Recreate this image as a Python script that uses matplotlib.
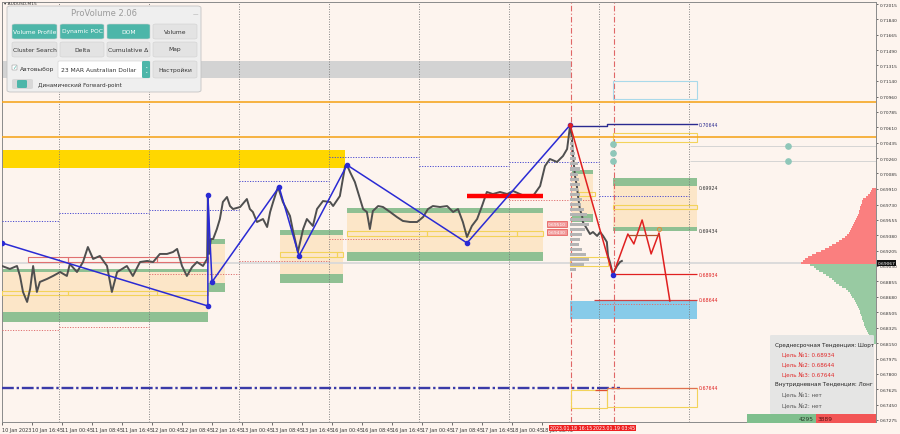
import numpy as np
import matplotlib
matplotlib.use("Agg")
import matplotlib.pyplot as plt
import matplotlib.transforms as mtransforms
from matplotlib.patches import Rectangle, FancyBboxPatch

# ---------------- data ----------------
# time axis: trading hours since 10 Jan 08:45 (M15 chart, weekends removed)
tick_t = [0, 8, 16, 24, 32, 40, 48, 56, 64, 72, 80, 88, 96, 104, 112, 120, 128, 136, 144]
tick_labels = ["10 Jan 2023", "10 Jan 16:45", "11 Jan 00:45", "11 Jan 08:45", "11 Jan 16:45",
               "12 Jan 00:45", "12 Jan 08:45", "12 Jan 16:45", "13 Jan 00:45", "13 Jan 08:45",
               "13 Jan 16:45", "16 Jan 00:45", "16 Jan 08:45", "16 Jan 16:45", "17 Jan 00:45",
               "17 Jan 08:45", "17 Jan 16:45", "18 Jan 00:45", "18 Jan 08:45"]
price_ticks = [0.72015, 0.71840, 0.71665, 0.71490, 0.71315, 0.71140, 0.70960, 0.70785, 0.70610,
               0.70435, 0.70260, 0.70085, 0.69910, 0.69730, 0.69555, 0.69380, 0.69205, 0.69030,
               0.68855, 0.68680, 0.68505, 0.68325, 0.68150, 0.67975, 0.67800, 0.67625, 0.67450,
               0.67275]
current_price = 0.69067

price_t = [0.0, 2.1, 4.0, 4.8, 5.6, 6.7, 7.5, 8.3, 9.3, 10.1, 12.0, 13.6, 15.5, 17.3, 18.1, 20.0,
           21.6, 22.9, 24.3, 26.1, 28.0, 29.3, 30.7, 33.3, 34.9, 36.8, 38.7, 40.3, 42.1, 44.0, 45.6,
           46.7, 48.0, 49.3, 50.7, 52.0, 53.6, 54.7, 54.9, 55.2, 55.7, 56.3, 57.3, 58.1, 58.9, 60.0,
           60.8, 61.6, 63.5, 65.3, 66.1, 66.9, 68.0, 69.6, 70.7, 71.5, 72.3, 73.6, 74.9, 76.8, 77.6,
           78.9, 80.3, 81.3, 82.9, 84.0, 85.6, 87.5, 88.3, 90.1, 91.5, 92.0, 92.8, 94.1, 95.5, 96.3,
           97.3, 98.1, 98.9, 100.3, 101.6, 103.5, 105.3, 106.9, 108.8, 110.7, 112.3, 113.6, 114.9,
           116.8, 118.7, 120.3, 121.6, 122.9, 124.0, 125.3, 126.7, 128.0, 129.3, 130.9, 132.8, 134.7,
           136.3, 138.1, 140.0, 141.6, 143.5, 144.8, 146.1, 148.0, 149.6, 150.7, 151.5, 152.0, 152.3,
           152.8, 153.3, 153.6, 154.1, 154.7, 154.9, 156.0, 156.8, 157.6, 158.7, 159.5, 160.3, 161.3,
           161.6, 162.1, 162.9, 164.0, 164.8, 165.3]
price_p = [0.69030, 0.68996, 0.69030, 0.68916, 0.68734, 0.68620, 0.68768, 0.69030, 0.68734, 0.68848,
           0.68882, 0.68916, 0.68961, 0.68916, 0.69053, 0.68961, 0.69075, 0.69246, 0.69110, 0.69144,
           0.69030, 0.68734, 0.68961, 0.69030, 0.68916, 0.69075, 0.69087, 0.69075, 0.69167, 0.69167,
           0.69189, 0.69224, 0.69030, 0.68916, 0.69018, 0.69075, 0.69030, 0.69110, 0.69816, 0.69167,
           0.69337, 0.69337, 0.69451, 0.69565, 0.69759, 0.69816, 0.69713, 0.69679, 0.69702, 0.69793,
           0.69679, 0.69645, 0.69531, 0.69565, 0.69474, 0.69645, 0.69759, 0.69930, 0.69759, 0.69600,
           0.69429, 0.69189, 0.69451, 0.69565, 0.69486, 0.69679, 0.69770, 0.69759, 0.69713, 0.69827,
           0.70169, 0.70181, 0.70101, 0.69987, 0.69793, 0.69679, 0.69645, 0.69451, 0.69656, 0.69713,
           0.69702, 0.69645, 0.69588, 0.69543, 0.69531, 0.69531, 0.69588, 0.69679, 0.69713, 0.69702,
           0.69713, 0.69645, 0.69679, 0.69531, 0.69360, 0.69486, 0.69565, 0.69713, 0.69873, 0.69850,
           0.69873, 0.69850, 0.69884, 0.69850, 0.69816, 0.69827, 0.69941, 0.70169, 0.70249, 0.70215,
           0.70283, 0.70363, 0.70636, 0.70477, 0.70283, 0.70055, 0.69941, 0.69827, 0.69679, 0.69600,
           0.69531, 0.69451, 0.69394, 0.69417, 0.69372, 0.69417, 0.69372, 0.69303, 0.69144, 0.69075,
           0.68939, 0.69030, 0.69075, 0.69087]

zigzag_t = [0.0, 54.9, 54.9, 56.0, 73.9, 79.2, 92.0, 124.0, 151.5]
zigzag_p = [0.69292, 0.68574, 0.69839, 0.68848, 0.69930, 0.69144, 0.70181, 0.69292, 0.70636]

forecast_t = [151.5, 162.9, 166.9, 168.5, 170.7, 173.1, 175.2, 178.1]
forecast_p = [0.70636, 0.68927, 0.69394, 0.69281, 0.69554, 0.69167, 0.69406, 0.68631]

# day separators and previous-day levels
day_t = [15.25, 39.25, 63.25, 87.25, 111.25, 135.25, 159.25, 183.25]
day_high = [0.69543, 0.69634, 0.69668, 0.70002, 0.70272, 0.70169, 0.70215, 0.69827]
day_low = [0.68301, 0.68335, 0.68939, 0.69087, 0.69337, None, 0.69782, 0.68597]
session_t = [151.7, 163.2]
session_labels = ["2023.01.18 16:15", "2023.01.19 03:45"]

# zones: (t_start, t_end, price_low, price_high)
peach_zones = [(0, 54.9, 0.68506, 0.68961), (54.9, 59.5, 0.68836, 0.69280),
               (74.1, 90.9, 0.68939, 0.69383), (92.0, 144.3, 0.69189, 0.69634),
               (152.0, 157.6, 0.69622, 0.70078), (162.9, 185.3, 0.69474, 0.69941)]
green_zones = [(0, 54.9, 0.68961, 0.68996), (0, 54.9, 0.68392, 0.68506),
               (54.9, 59.5, 0.69280, 0.69337), (54.9, 59.5, 0.68734, 0.68836),
               (74.1, 90.9, 0.69383, 0.69440), (74.1, 90.9, 0.68836, 0.68939),
               (92.0, 144.3, 0.69634, 0.69691), (92.0, 144.3, 0.69087, 0.69189),
               (152.0, 157.6, 0.70078, 0.70124), (152.0, 157.6, 0.69531, 0.69622),
               (162.9, 185.3, 0.69941, 0.70032), (162.9, 185.3, 0.69429, 0.69474)]
yellow_boxes = [(0, 17.6, 0.68699, 0.68745), (17.6, 41.3, 0.68699, 0.68745),
                (41.3, 54.9, 0.68699, 0.68745), (74.1, 89.3, 0.69132, 0.69189),
                (89.3, 90.9, 0.69132, 0.69189), (92.0, 113.3, 0.69372, 0.69429),
                (113.3, 137.3, 0.69372, 0.69429), (137.3, 144.3, 0.69372, 0.69429),
                (153.6, 158.1, 0.69827, 0.69873), (151.5, 161.6, 0.69030, 0.69132),
                (162.9, 185.3, 0.70443, 0.70545), (162.9, 185.3, 0.69679, 0.69725),
                (151.7, 161.3, 0.67412, 0.67617), (161.3, 185.3, 0.67423, 0.67640)]
red_boxes = [(6.9, 17.6, 0.69075, 0.69132), (17.6, 41.3, 0.69075, 0.69132),
             (41.3, 54.9, 0.69075, 0.69132)]
gold_band = (0, 91.5, 0.70146, 0.70352)
gray_band = (-1, 151.7, 0.71172, 0.71366)
blue_box = (162.9, 185.3, 0.70933, 0.71138)
blue_fill = (151.5, 185.3, 0.68426, 0.68631)
orange_levels = [0.70904, 0.70500]
red_bar = (124.0, 144.3, 0.69827)
zone_tags = [(0.69508, "0.69510"), (0.69417, "0.69430")]

target_labels = [(0.70644, "0.70644", "#2a2a90"), (0.69924, "0.69924", "#333333"),
                 (0.69434, "0.69434", "#333333"), (0.68934, "0.68934", "#e02020"),
                 (0.68644, "0.68644", "#e02020"), (0.67644, "0.67644", "#e02020")]
teal_dots_t = [162.9, 162.9, 162.9, 209.6, 209.6]
teal_dots_p = [0.70420, 0.70317, 0.70226, 0.70397, 0.70226]

# volume profile (right edge): sell above price, buy below
vp_step = 0.000228
vp_sell = [75, 73, 71, 68, 64, 60, 55, 51, 47, 44, 40, 37, 34, 31, 29, 27, 26, 25, 24, 23, 22,
           21, 20, 19, 18, 17, 17, 16, 16, 15, 14, 14, 13, 10, 8, 6, 5, 4]
vp_buy = [66, 62, 60, 57, 53, 50, 47, 44, 42, 40, 37, 34, 30, 28, 26, 25, 24, 22, 21, 20, 19, 18,
          17, 16, 16, 15, 14, 14, 13, 12, 12, 11, 10, 9, 8, 7, 6, 5, 4, 3]
thin_sell_p = [0.69155, 0.69201, 0.69246, 0.69292, 0.69337, 0.69383, 0.69474, 0.69531, 0.69588,
               0.69656, 0.69736, 0.69975, 0.70112, 0.70363, 0.70705, 0.70933, 0.71160, 0.71388,
               0.71730]
thin_sell_v = [129, 90, 70, 60, 55, 50, 60, 76, 70, 40, 30, 25, 20, 15, 20, 25, 10, 15, 10]
thin_buy_p = [0.68996, 0.68939, 0.68882, 0.68825, 0.68768, 0.68699, 0.68654, 0.68585, 0.68540,
              0.68449, 0.68358, 0.68255]
thin_buy_v = [100, 126, 80, 116, 70, 90, 96, 60, 106, 76, 40, 30]
# small tick-volume profile at the last swing
gp_top = 0.70477
gp_step = 0.00057
gp_vals = [2, 3, 4, 5, 6, 8, 10, 8, 9, 10, 8, 10, 12, 11, 14, 17, 21, 19, 15, 12, 10, 9, 12, 16,
           19, 14, 6]

panel_lines = [("Среднесрочная Тенденция: Шорт", "#222222", 0),
               ("Цель №1: 0.68934", "#e02a2a", 1), ("Цель №2: 0.68644", "#e02a2a", 1),
               ("Цель №3: 0.67644", "#e02a2a", 1),
               ("Внутридневная Тенденция: Лонг", "#222222", 0),
               ("Цель №1: нет", "#555555", 1), ("Цель №2: нет", "#555555", 1)]
buy_total, sell_total = 4295, 3889

# ---------------- figure ----------------
BG = "#fdf4ee"
W, H = 900, 435
def fx(x): return x / W
def fy(y): return 1 - y / H

fig = plt.figure(figsize=(9, 4.35), dpi=100)
fig.patch.set_facecolor(BG)
ax = fig.add_axes([fx(2), fy(423), (876 - 2) / W, (423 - 3) / H])
ax.set_facecolor(BG)
XMAX = 233.07
YLIM = (0.67252, 0.72038)
ax.set_xlim(0, XMAX)
ax.set_ylim(*YLIM)

def rect(z, fc="none", ec="none", lw=0.7, zo=1, alpha=1.0):
    ax.add_patch(Rectangle((z[0], z[2]), z[1] - z[0], z[3] - z[2], fc=fc, ec=ec, lw=lw,
                           zorder=zo, alpha=alpha))

rect(gray_band, fc="#d3d3d3", zo=1)
rect(gold_band, fc="#ffd700", zo=1)
for z in peach_zones:
    rect(z, fc="#fce6c8", zo=1)
for z in green_zones:
    rect(z, fc="#8fc093", zo=2)
rect(blue_fill, fc="#87cbe9", zo=2)
for z in yellow_boxes:
    rect(z, ec="#f3d35a", lw=0.8, zo=3)
for z in red_boxes:
    rect(z, ec="#e07070", lw=0.8, zo=3)
rect(blue_box, ec="#a9d9ea", lw=0.8, zo=3)

for lv in orange_levels:
    ax.axhline(lv, color="#f5a623", lw=1.2, zorder=3)
ax.axhline(current_price, color="#d9d9d9", lw=1.3, zorder=1)

# day separators and previous day levels
for t in day_t:
    ax.axvline(t, color="#777777", lw=0.6, ls=(0, (1.2, 1.8)), zorder=2)
starts = [0] + day_t[:-1]
for t0, t1, hi, lo in zip(starts, day_t, day_high, day_low):
    ax.hlines(hi, t0, t1, color="#4a4ad0", lw=0.7, ls=(0, (1.2, 1.5)), zorder=3)
    if lo is not None:
        ax.hlines(lo, t0, t1, color="#e07070", lw=0.7, ls=(0, (1.2, 1.5)), zorder=3)
for t in session_t:
    ax.axvline(t, color="#e06666", lw=0.8, ls=(0, (5, 2, 1, 2)), zorder=2)

ax.hlines(0.67644, 0, 164.8, color="#3a3aa8", lw=1.7, ls=(0, (5, 1.2, 1, 1.2)), zorder=4)

# price
ax.plot(price_t, price_p, color="#4f4f4f", lw=1.4, zorder=5)
ax.hlines(red_bar[2], red_bar[0], red_bar[1], color="#ff0000", lw=3.2, zorder=6)

# zigzag and forecast
ax.plot(zigzag_t, zigzag_p, color="#2a2ad4", lw=1.1, marker="o", ms=3, zorder=7)
ax.plot(forecast_t, forecast_p, color="#e02020", lw=1.1, zorder=7)
ax.hlines(0.69383, 166.9, 175.2, color="#b0502a", lw=0.9, zorder=7)
ax.plot([175.2], [0.69455], marker="o", ms=3, mfc="none", mec="#e58a3a", mew=0.7, zorder=7)
ax.plot([forecast_t[0]], [forecast_p[0]], marker="o", ms=2.5, color="#e02020", zorder=8)
ax.plot([forecast_t[1]], [forecast_p[1]], marker="o", ms=3, color="#2a2ad4", zorder=8)

# target lines
ax.plot([151.7, 161.3, 161.3, 185.3], [0.70625, 0.70625, 0.70644, 0.70644], color="#2a2a90", lw=1.0, zorder=6)
ax.hlines(0.68934, 162.9, 185.3, color="#e02020", lw=0.9, zorder=6)
ax.hlines(0.68644, 157.9, 185.3, color="#d04040", lw=0.9, zorder=6)
ax.hlines(0.67644, 161.3, 185.3, color="#e07050", lw=0.9, zorder=6)
ax.hlines(0.67617, 158.1, 161.3, color="#e05030", lw=0.9, zorder=6)
for p, s, c in target_labels:
    ax.text(185.8, p, s, color=c, fontsize=3.4, va="center", ha="left", zorder=9)
for p, s in zone_tags:
    ax.text(148.0, p, s, color="white", fontsize=3.2, va="center", ha="center", zorder=9,
            bbox=dict(fc="#f19a9a", ec="#e03030", lw=0.4, pad=0.5))

ax.plot(teal_dots_t, teal_dots_p, "o", color="#8fc7b9", ms=3.8, zorder=8)
for p in teal_dots_p[3:]:
    ax.hlines(p, 183.5, XMAX, color="#cfcfcf", lw=0.6, zorder=2)

# axes styling
ax.set_xticks(tick_t)
ax.set_xticklabels(tick_labels)
for lab in ax.get_xticklabels():
    lab.set_horizontalalignment("left")
ax.yaxis.tick_right()
ax.set_yticks(price_ticks)
ax.set_yticklabels([f"{v:.5f}" for v in price_ticks])
ax.tick_params(axis="x", length=2, width=0.5, labelsize=3.5, pad=1.5, colors="#333333")
ax.tick_params(axis="y", length=1.5, width=0.5, labelsize=3.2, pad=1.0, colors="#333333")
for sp in ax.spines.values():
    sp.set_color("#8a8a8a")
    sp.set_linewidth(0.7)

tr_xa = mtransforms.blended_transform_factory(ax.transData, ax.transAxes)
for t, s in zip(session_t, session_labels):
    ax.text(t, -0.008, s, transform=tr_xa, ha="center", va="top", fontsize=3.4, color="white",
            clip_on=False, zorder=10, bbox=dict(fc="#ee2020", ec="none", pad=0.6))
tr_ay = mtransforms.blended_transform_factory(ax.transAxes, ax.transData)
ax.text(1.002, current_price, f"{current_price:.5f}", transform=tr_ay, ha="left", va="center",
        fontsize=3.2, color="white", clip_on=False, zorder=10,
        bbox=dict(fc="#111111", ec="none", pad=0.6))

# right-edge volume profile
ax_vp = fig.add_axes([fx(690), fy(423), (876 - 690) / W, (423 - 3) / H])
ax_vp.set_xlim(186, 0)
ax_vp.set_ylim(*YLIM)
ax_vp.axis("off")
ax_vp.patch.set_alpha(0)
sell_lvl = 0.69064 + vp_step * np.arange(len(vp_sell))
buy_lvl = 0.69041 - vp_step * np.arange(len(vp_buy))
ax_vp.barh(sell_lvl, vp_sell, height=vp_step, color="#fa7f7f", lw=0)
ax_vp.barh(buy_lvl, vp_buy, height=vp_step, color="#98caa2", lw=0)
ax_vp.barh(thin_sell_p, thin_sell_v, height=vp_step * 0.35, color="#f49090", lw=0)
ax_vp.barh(thin_buy_p, thin_buy_v, height=vp_step * 0.35, color="#a9d0b0", lw=0)

# small gray profile next to the last swing
ax_gp = fig.add_axes([fx(570), fy(423), 30 / W, (423 - 3) / H])
ax_gp.set_xlim(0, 30)
ax_gp.set_ylim(*YLIM)
ax_gp.axis("off")
ax_gp.patch.set_alpha(0)
gp_lvl = gp_top - gp_step * np.arange(len(gp_vals))
ax_gp.barh(gp_lvl, gp_vals, height=gp_step * 0.6, color="#b4b4b4", lw=0)

# ---------------- overlays (figure coordinates) ----------------
def fbox(x0, y0, x1, y1, fc, ec="none", lw=0.5, r=0.004, zo=20, alpha=1.0):
    p = FancyBboxPatch((fx(x0), fy(y1)), fx(x1) - fx(x0), fy(y0) - fy(y1),
                       boxstyle=f"round,pad=0,rounding_size={r}", transform=fig.transFigure,
                       fc=fc, ec=ec, lw=lw, zorder=zo, alpha=alpha)
    fig.add_artist(p)

def ftext(x, y, s, **kw):
    kw.setdefault("zorder", 30)
    fig.text(fx(x), fy(y), s, **kw)

ftext(4, 4, "▾ AUDUSD,M15", fontsize=3.2, color="#333333", va="center")

# ProVolume widget
TEAL = "#4db6a9"
fbox(7, 7, 201, 93, "#efefef", ec="#c4c4c4", lw=0.6)
ftext(104, 14, "ProVolume 2.06", fontsize=6, color="#9b9b9b", ha="center", va="center")
ftext(195, 15, "—", fontsize=4, color="#999999", ha="center", va="center")
row1 = [("Volume Profile", True), ("Dynamic POC", True), ("DOM", True), ("Volume", False)]
row2 = ["Cluster Search", "Delta", "Cumulative Δ", "Map"]
cols = [(12, 57), (60, 104), (107, 150), (153, 197)]
for (x0, x1), (s, on) in zip(cols, row1):
    fbox(x0, 25, x1, 40, TEAL if on else "#e3e3e3", ec="#d0d0d0", lw=0.4, r=0.003)
    ftext((x0 + x1) / 2, 32, s, fontsize=4.3, color="white" if on else "#333333",
          ha="center", va="center")
for (x0, x1), s in zip(cols, row2):
    fbox(x0, 43, x1, 58, "#e3e3e3", ec="#d0d0d0", lw=0.4, r=0.003)
    ftext((x0 + x1) / 2, 50, s, fontsize=4.3, color="#333333", ha="center", va="center")
fbox(12, 66, 17, 71, "white", ec="#999999", lw=0.4, r=0.001)
ftext(14.5, 67.5, "✓", fontsize=4, color=TEAL, ha="center", va="center")
ftext(20, 70, "Автовыбор", fontsize=4.3, color="#333333", va="center")
fbox(58, 62, 150, 79, "white", ec="#d0d0d0", lw=0.4, r=0.002)
fbox(142, 62, 150, 79, TEAL, r=0.002)
ftext(146, 70.5, "⌃\n⌄", fontsize=3, color="white", ha="center", va="center", linespacing=0.6)
ftext(61, 70.5, "23 MAR Australian Dollar", fontsize=4.3, color="#333333", va="center")
fbox(153, 62, 197, 79, "#e3e3e3", ec="#d0d0d0", lw=0.4, r=0.003)
ftext(175, 70.5, "Настройки", fontsize=4.3, color="#333333", ha="center", va="center")
fbox(12, 80, 33, 90, "#d8d8d8", r=0.003)
fbox(17, 81, 27, 89, TEAL, r=0.002)
ftext(38, 85, "Динамический Forward-point", fontsize=4.1, color="#333333", va="center")

# trend info panel
fbox(770, 336, 874, 415, "#e4e4e4", r=0.002, alpha=0.93)
panel_y = [345, 355, 365, 375, 385, 395, 406]
for (s, c, ind), y in zip(panel_lines, panel_y):
    ftext(775 + 7 * ind, y, s, fontsize=4.1, color=c, va="center")

# buy / sell totals
fbox(747, 415, 816, 424, "#7fbf8d", r=0.0)
fbox(816, 415, 876, 424, "#f25555", r=0.0)
ftext(814, 419.5, str(buy_total), fontsize=4.2, color="#2a3a2a", ha="right", va="center")
ftext(818, 419.5, str(sell_total), fontsize=4.2, color="#5a1010", ha="left", va="center")

fig.savefig("out.png", dpi=100, facecolor=BG)
